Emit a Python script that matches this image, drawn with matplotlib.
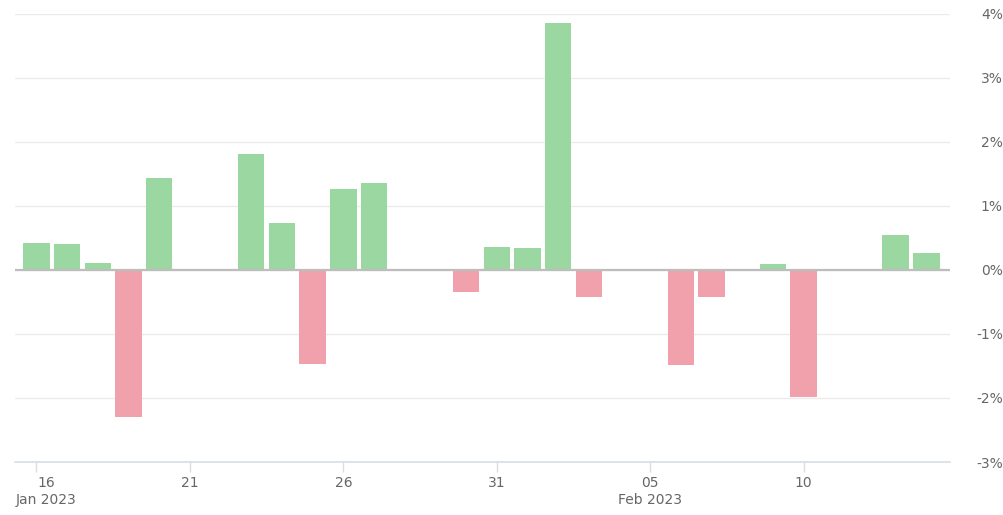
import matplotlib
matplotlib.use("Agg")
import matplotlib.pyplot as plt
import matplotlib.dates as mdates
import matplotlib.transforms as mtransforms
import pandas as pd

# daily % change (weekdays only)
dates = pd.to_datetime([
    "2023-01-16", "2023-01-17", "2023-01-18", "2023-01-19", "2023-01-20",
    "2023-01-23", "2023-01-24", "2023-01-25", "2023-01-26", "2023-01-27",
    "2023-01-30", "2023-01-31", "2023-02-01", "2023-02-02", "2023-02-03",
    "2023-02-06", "2023-02-07", "2023-02-09", "2023-02-10",
    "2023-02-13", "2023-02-14",
])
changes = [
    0.42, 0.41, 0.10, -2.29, 1.43,
    1.81, 0.73, -1.47, 1.26, 1.36,
    -0.35, 0.35, 0.34, 3.85, -0.43,
    -1.48, -0.43, 0.09, -1.99,
    0.55, 0.26,
]
tick_dates = pd.to_datetime(["2023-01-16", "2023-01-21", "2023-01-26",
                             "2023-01-31", "2023-02-05", "2023-02-10"])
tick_labels = ["16\nJan 2023", "21", "26", "31", "05\nFeb 2023", "10"]
y_ticks = [-3, -2, -1, 0, 1, 2, 3, 4]

green = "#9bd7a0"
red = "#f0a1ab"

fig = plt.figure(figsize=(10.04, 5.15), dpi=100)
ax = fig.add_axes([15 / 1004, 53 / 515, 935 / 1004, 448.4 / 515])

x = mdates.date2num(dates)
colors = [green if v >= 0 else red for v in changes]
ax.bar(x, changes, width=0.86, color=colors, zorder=3)

# zero line
ax.axhline(0, color="#bdbdbd", linewidth=1.6, zorder=4)

x0 = mdates.date2num(pd.Timestamp("2023-01-16"))
ax.set_xlim(x0 - 0.70, x0 + 29.77)
ax.set_ylim(-3, 4)

ax.set_yticks(y_ticks)
ax.set_yticklabels([f"{t}%" for t in y_ticks])
ax.yaxis.tick_right()
ax.grid(axis="y", color="#ebebeb", linewidth=1, zorder=0)
ax.tick_params(axis="y", length=0, pad=38, labelsize=10, labelcolor="#666666")
for lbl in ax.get_yticklabels():
    lbl.set_horizontalalignment("right")

ax.set_xticks(mdates.date2num(tick_dates))
ax.set_xticklabels(tick_labels)
ax.tick_params(axis="x", length=7, width=1, color="#d8dde6", pad=3,
               labelsize=10, labelcolor="#666666")
for lbl in ax.get_xticklabels():
    lbl.set_linespacing(1.3)
# first label nudged right so it stays inside the figure
shift = mtransforms.ScaledTranslation(10 / 100, 0, fig.dpi_scale_trans)
first = ax.get_xticklabels()[0]
first.set_transform(first.get_transform() + shift)

for side in ["top", "right", "left"]:
    ax.spines[side].set_visible(False)
ax.spines["bottom"].set_color("#d8dde6")
ax.spines["bottom"].set_linewidth(1.2)

fig.savefig("out.png", dpi=100)
